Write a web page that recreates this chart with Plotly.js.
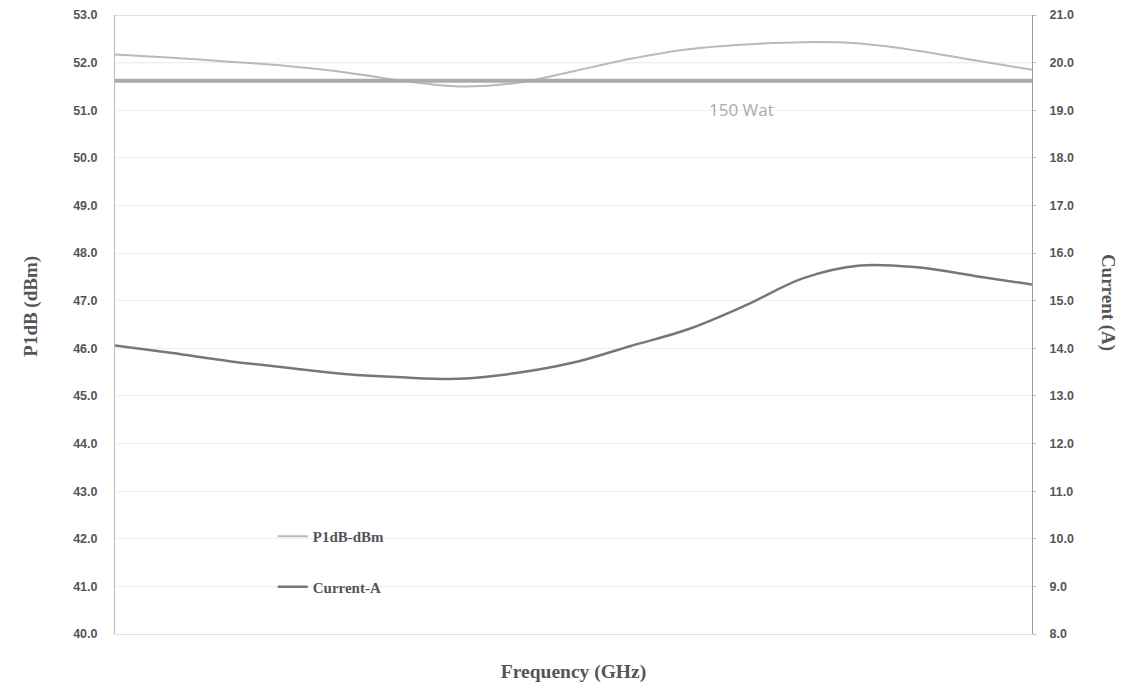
<!DOCTYPE html>
<html>
<head>
<meta charset="utf-8">
<script src="https://cdn.plot.ly/plotly-3.0.1.min.js"></script>
<style>
  html, body { margin: 0; padding: 0; background: #fff; }
  #chart { width: 1124px; height: 686px; }
</style>
</head>
<body>
<div id="chart"></div>
<script>
// Frequency sample index (axis carries no tick labels in the reference)
const freqIndex = [0, 1, 2, 3, 4, 5, 6, 7, 8, 9, 10, 11, 12, 13, 14, 15, 16];

// P1dB (dBm), left axis
const p1dbDbm = [52.17, 52.10, 52.02, 51.93, 51.80, 51.62, 51.50, 51.57, 51.82,
                 52.08, 52.28, 52.38, 52.43, 52.40, 52.25, 52.05, 51.85];

// Current (A), right axis
const currentA = [14.06, 13.90, 13.73, 13.59, 13.46, 13.39, 13.36, 13.48, 13.70,
                  14.05, 14.40, 14.90, 15.47, 15.74, 15.70, 15.52, 15.34];

// 150 W reference level (dBm) and its label
const refLevel = 51.62;
const refLabel = "150 Wat";

// Emphasised grid levels on the left axis
const emphasisLevels = [52, 53];

const seriesNames = ["P1dB-dBm", "Current-A"];

const serif = "Liberation Serif, Times New Roman, serif";
const sans = "Liberation Sans, Arial, sans-serif";

const traces = [
  {
    x: freqIndex, y: p1dbDbm, name: seriesNames[0], type: "scatter", mode: "lines",
    line: { color: "#b9b9b9", width: 2, shape: "spline", smoothing: 1 },
    legendgroup: "a", xaxis: "x", yaxis: "y"
  },
  {
    x: freqIndex, y: currentA, name: seriesNames[1], type: "scatter", mode: "lines",
    line: { color: "#777777", width: 2.5, shape: "spline", smoothing: 1 },
    legendgroup: "b", xaxis: "x", yaxis: "y2"
  }
];

const shapes = emphasisLevels.map(v => ({
  type: "line", xref: "paper", x0: 0, x1: 1, yref: "y", y0: v, y1: v,
  line: { color: "#c4c4c4", width: 1 }, layer: "below"
}));
shapes.push({
  type: "line", xref: "paper", x0: 0, x1: 1, yref: "y", y0: refLevel, y1: refLevel,
  line: { color: "#ababab", width: 4 }, layer: "above"
});

const layout = {
  width: 1124, height: 686,
  margin: { l: 115, r: 92, t: 15, b: 52 },
  paper_bgcolor: "#ffffff", plot_bgcolor: "#ffffff",
  showlegend: true,
  legend: {
    x: 0.172, y: 0.184, xanchor: "left", yanchor: "top",
    traceorder: "grouped", tracegroupgap: 28,
    font: { family: serif, size: 15, color: "#555555", weight: "bold" },
    bgcolor: "rgba(0,0,0,0)", itemwidth: 30
  },
  xaxis: {
    range: [freqIndex[0], freqIndex[freqIndex.length - 1]],
    showticklabels: false, showgrid: false, zeroline: false,
    showline: true, linecolor: "#e2e2e2", linewidth: 1, ticks: "",
    title: { text: "Frequency (GHz)", font: { family: serif, size: 19.5, color: "#555555", weight: "bold" }, standoff: 30 }
  },
  yaxis: {
    range: [40, 53], dtick: 1, tickformat: ".1f",
    tickfont: { family: sans, size: 12.5, color: "#555555", weight: "bold" },
    showgrid: true, gridcolor: "#eeeeee", gridwidth: 1, zeroline: false,
    showline: true, linecolor: "#bcbcbc", linewidth: 1,
    ticks: "", ticklabelstandoff: 14
  },
  yaxis2: {
    range: [8, 21], dtick: 1, tickformat: ".1f", overlaying: "y", side: "right",
    tickfont: { family: sans, size: 12.5, color: "#555555", weight: "bold" },
    showgrid: false, zeroline: false,
    showline: true, linecolor: "#9a9a9a", linewidth: 1,
    ticks: "outside", ticklen: 3, tickcolor: "#bbbbbb", ticklabelstandoff: 11
  },
  shapes: shapes,
  annotations: [
    {
      text: refLabel, xref: "paper", yref: "paper", x: 0.683, y: 0.847,
      xanchor: "center", yanchor: "middle",
      showarrow: false, font: { family: "Open Sans, sans-serif", size: 17, color: "#aaaaaa" }
    },
    {
      text: "P1dB (dBm)", xref: "paper", yref: "paper", x: -0.106, y: 0.53, textangle: -90,
      showarrow: false, font: { family: serif, size: 19, color: "#555555", weight: "bold" }
    },
    {
      text: "Current (A)", xref: "paper", yref: "paper", x: 1.097, y: 0.535, textangle: 90,
      showarrow: false, font: { family: serif, size: 19, color: "#555555", weight: "bold" }
    }
  ]
};

Plotly.newPlot("chart", traces, layout, { displayModeBar: false, staticPlot: true });
</script>
</body>
</html>
